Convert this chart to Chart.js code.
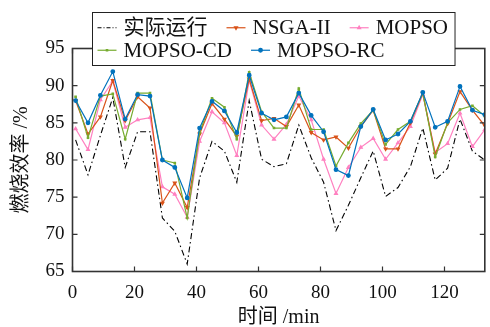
<!DOCTYPE html>
<html>
<head>
<meta charset="utf-8">
<script src="https://cdn.jsdelivr.net/npm/chart.js"></script>
<style>
  html, body { margin: 0; padding: 0; background: #fff; }
  #wrap { width: 490px; height: 327px; }
</style>
</head>
<body>
<div id="wrap"><canvas id="myChart" width="490" height="327"></canvas></div>
<script>
// time in minutes
const minutes = [1, 5, 9, 13, 17, 21, 25, 29, 33, 37, 41, 45, 49, 53, 57, 61, 65,
  69, 73, 77, 81, 85, 89, 93, 97, 101, 105, 109, 113, 117, 121, 125, 129, 133];

const actual = [82.7, 78.0, 83.3, 88.4, 79.0, 83.8, 83.8, 72.2, 70.4, 66.0, 77.6, 82.5,
  81.2, 77.0, 88.0, 80.1, 79.1, 79.5, 84.7, 80.3, 77.0, 70.5, 73.9, 77.6, 81.2, 75.1,
  76.3, 79.1, 84.3, 77.3, 78.9, 85.5, 81.2, 80.0];
const nsga2 = [88.0, 83.5, 85.8, 90.7, 85.3, 88.5, 87.0, 74.2, 76.9, 73.6, 83.5, 87.6,
  85.5, 83.2, 90.9, 85.3, 85.6, 84.5, 87.4, 83.7, 82.7, 83.1, 81.6, 84.5, 86.7, 81.5,
  81.5, 85.0, 89.0, 80.8, 84.9, 89.2, 86.7, 84.6];
const mopso = [84.2, 81.4, 88.1, 90.6, 84.4, 85.4, 85.7, 76.4, 75.4, 72.3, 82.5, 86.5,
  85.0, 80.6, 90.7, 84.7, 82.8, 84.8, 88.6, 85.4, 80.1, 75.5, 79.0, 81.7, 82.9, 80.1,
  82.3, 84.5, 88.8, 81.0, 82.2, 86.3, 81.8, 84.1];
const mopsoCD = [88.5, 83.0, 88.6, 88.9, 82.8, 89.0, 89.0, 80.0, 79.6, 72.2, 83.7, 88.3,
  87.1, 82.8, 91.8, 86.5, 84.3, 84.3, 89.6, 84.1, 84.1, 79.2, 82.3, 84.9, 86.7, 82.1,
  84.1, 85.2, 89.0, 80.4, 85.0, 86.8, 87.3, 85.9];
const mopsoRC = [88.0, 85.0, 88.7, 91.9, 85.5, 88.8, 88.6, 80.0, 79.0, 74.9, 84.3, 87.9,
  86.6, 83.7, 91.4, 86.3, 85.4, 85.8, 89.0, 86.0, 83.8, 78.7, 77.9, 84.5, 86.8, 82.7,
  83.5, 85.2, 89.1, 84.4, 85.2, 89.9, 86.7, 86.1];

const seriesNames = ['实际运行', 'NSGA-II', 'MOPSO', 'MOPSO-CD', 'MOPSO-RC'];
const xTicks = [0, 20, 40, 60, 80, 100, 120];
const yTicks = [65, 70, 75, 80, 85, 90, 95];

const SERIF = "'Liberation Serif', 'Noto Sans CJK SC', serif";

function pts(values) {
  return values.map((v, i) => ({x: minutes[i], y: v}));
}

const datasets = [
  {label: seriesNames[0], data: pts(actual), borderColor: '#000', backgroundColor: '#000',
    borderWidth: 1.1, borderDash: [6, 3, 1.5, 3], pointRadius: 0, order: 5},
  {label: seriesNames[1], data: pts(nsga2), borderColor: '#D95319', backgroundColor: '#D95319',
    borderWidth: 1.2, pointStyle: 'triangle', pointRotation: 180, pointRadius: 1.7, order: 3},
  {label: seriesNames[2], data: pts(mopso), borderColor: '#FF80C0', backgroundColor: '#FF80C0',
    borderWidth: 1.2, pointStyle: 'triangle', pointRadius: 1.7, order: 4},
  {label: seriesNames[3], data: pts(mopsoCD), borderColor: '#77AC30', backgroundColor: '#77AC30',
    borderWidth: 1.2, pointStyle: 'rect', pointRadius: 1, order: 2},
  {label: seriesNames[4], data: pts(mopsoRC), borderColor: '#0072BD', backgroundColor: '#0072BD',
    borderWidth: 1.2, pointStyle: 'circle', pointRadius: 1.8, order: 1}
];

// frame around the plot with inward ticks on all four sides
const framePlugin = {
  id: 'frame',
  afterDatasetsDraw(chart) {
    const {ctx, chartArea: a, scales} = chart;
    ctx.save();
    ctx.strokeStyle = '#333';
    ctx.lineWidth = 1.2;
    const tl = 5;
    ctx.beginPath();
    scales.x.ticks.forEach(t => {
      const px = scales.x.getPixelForValue(t.value);
      ctx.moveTo(px, a.bottom); ctx.lineTo(px, a.bottom - tl);
      ctx.moveTo(px, a.top); ctx.lineTo(px, a.top + tl);
    });
    scales.y.ticks.forEach(t => {
      const py = scales.y.getPixelForValue(t.value);
      ctx.moveTo(a.left, py); ctx.lineTo(a.left + tl, py);
      ctx.moveTo(a.right, py); ctx.lineTo(a.right - tl, py);
    });
    ctx.stroke();
    ctx.lineWidth = 1.6;
    ctx.strokeRect(a.left, a.top, a.right - a.left, a.bottom - a.top);
    ctx.restore();
  }
};

// boxed two-row legend overlapping the top of the plot
const boxLegend = {
  id: 'boxLegend',
  afterDraw(chart) {
    const ctx = chart.ctx;
    const rows = [[0, 1, 2], [3, 4]];
    const boxX = 92.5, boxY = 12.5, rowH = 22.5, pad = 5;
    const sample = 19, gap = 7, spacing = 19;
    ctx.save();
    ctx.font = '21px ' + SERIF;
    let maxW = 0;
    rows.forEach(r => {
      let w = 0;
      r.forEach((i, k) => {
        w += sample + gap + ctx.measureText(datasets[i].label).width + (k ? spacing : 0);
      });
      maxW = Math.max(maxW, w);
    });
    const boxW = maxW + pad * 2 + 2, boxH = rowH * rows.length + 8;
    ctx.fillStyle = '#fff';
    ctx.fillRect(boxX, boxY, boxW, boxH);
    ctx.strokeStyle = '#222';
    ctx.lineWidth = 1;
    ctx.strokeRect(boxX, boxY, boxW, boxH);

    rows.forEach((r, ri) => {
      const cy = boxY + 4 + rowH * ri + rowH / 2;
      let x = boxX + pad;
      r.forEach(i => {
        const ds = datasets[i];
        ctx.save();
        ctx.strokeStyle = ds.borderColor;
        ctx.fillStyle = ds.backgroundColor;
        ctx.lineWidth = ds.borderWidth;
        ctx.setLineDash(ds.borderDash ? [4, 2, 1, 2] : []);
        ctx.beginPath();
        ctx.moveTo(x, cy); ctx.lineTo(x + sample, cy);
        ctx.stroke();
        ctx.setLineDash([]);
        if (ds.pointRadius) {
          Chart.helpers.drawPoint(ctx, {
            pointStyle: ds.pointStyle, radius: ds.pointRadius,
            rotation: ds.pointRotation || 0, borderWidth: 1
          }, x + sample / 2, cy);
        }
        ctx.restore();
        x += sample + gap;
        ctx.fillStyle = '#111';
        ctx.textBaseline = 'middle';
        ctx.textAlign = 'left';
        ctx.fillText(ds.label, x, cy + 1);
        x += ctx.measureText(ds.label).width + spacing;
      });
    });
    ctx.restore();
  }
};

new Chart(document.getElementById('myChart').getContext('2d'), {
  type: 'line',
  data: {datasets: datasets},
  plugins: [framePlugin, boxLegend],
  options: {
    responsive: false,
    animation: false,
    layout: {padding: {top: 48.5, right: 2, left: 0, bottom: 0}},
    plugins: {legend: {display: false}, tooltip: {enabled: false}},
    elements: {line: {tension: 0}},
    scales: {
      x: {
        type: 'linear',
        min: 0,
        max: 133,
        grid: {display: false, drawTicks: false},
        border: {display: false},
        afterBuildTicks: s => { s.ticks = xTicks.map(v => ({value: v})); },
        afterFit: s => { s.height = 55.5; },
        ticks: {color: '#111', padding: 10, font: {family: SERIF, size: 19}},
        title: {
          display: true, text: '时间 /min', color: '#111',
          font: {family: SERIF, size: 20, lineHeight: 0.9}, padding: 0
        }
      },
      y: {
        min: 65,
        max: 95,
        grid: {display: false, drawTicks: false},
        border: {display: false},
        afterBuildTicks: s => { s.ticks = yTicks.map(v => ({value: v})); },
        afterFit: s => { s.width = 72.5; },
        ticks: {color: '#111', padding: 8, font: {family: SERIF, size: 19}},
        title: {
          display: true, text: '燃烧效率 /%', color: '#111',
          font: {family: SERIF, size: 20, lineHeight: 1.2}, padding: {top: 10, bottom: 0}
        }
      }
    }
  }
});
</script>
</body>
</html>
